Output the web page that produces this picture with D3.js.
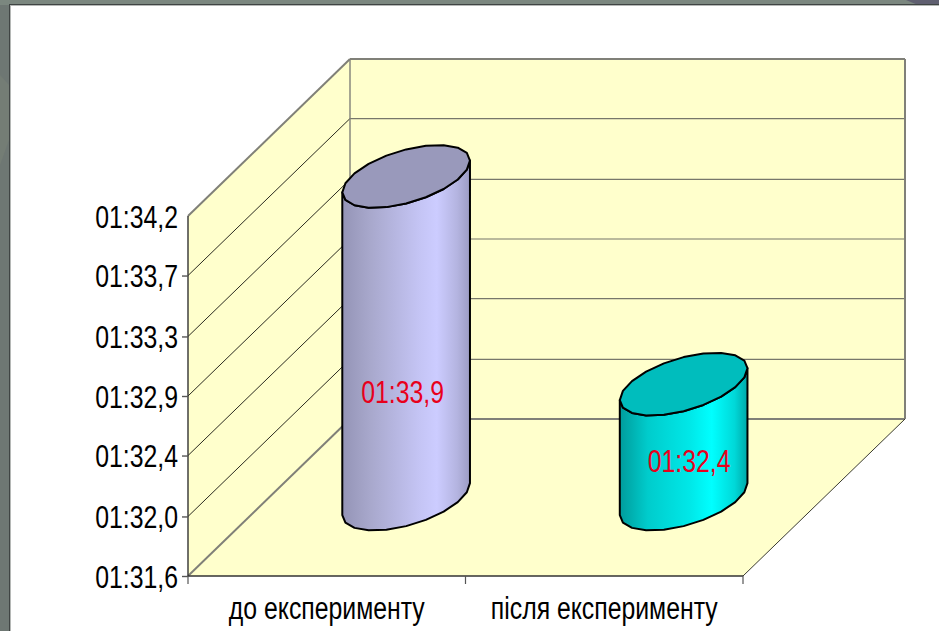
<!DOCTYPE html>
<html lang="uk">
<head>
<meta charset="utf-8">
<title>до і після експерименту</title>
<script src="https://cdn.jsdelivr.net/npm/d3@7/dist/d3.min.js"></script>
<style>
  html, body { margin: 0; padding: 0; background: #fff; overflow: hidden; }
  svg { display: block; }
  text { font-family: "Liberation Sans", Arial, sans-serif; }
</style>
</head>
<body>
<svg id="chart" width="939" height="631"></svg>
<script>
// Times are stored in seconds and shown as mm:ss,d
const categories = ["до експерименту", "після експерименту"];
const seriesValues = [93.9, 92.4];
const axisTicks = [91.57, 92.0, 92.44, 92.87, 93.3, 93.74, 94.17];
const axisDomain = [91.57, 94.17];

// Oblique box: front plane plus a depth vector
const front = { left: 188, right: 743, bottom: 576, top: 216 };
const depth = { x: 162, y: -157 };
const barDepthCentre = 0.49;
const barRadiusX = 55;
const barRadiusDepth = 0.2;
const labelNudge = [-3.5, 5.5];
const fontSize = 31;
const textSqueeze = 0.8;

const svg = d3.select("#chart");

const x = d3.scaleBand().domain(categories).range([front.left, front.right]);
const y = d3.scaleLinear().domain(axisDomain).range([front.bottom, front.top]);

const formatTime = s => {
  const m = Math.floor(s / 60);
  const rest = (s - m * 60).toFixed(1).replace(".", ",");
  return `${String(m).padStart(2, "0")}:${rest.padStart(4, "0")}`;
};

/* Slide frame behind the white panel */
const defs = svg.append("defs");
svg.append("rect").attr("width", 939).attr("height", 631).attr("fill", "#6e7773");
svg.append("rect").attr("width", 939).attr("height", 5).attr("fill", "#7b877f");
svg.append("path").attr("d", "M906,0 L939,0 L939,5 L918,5 Z").attr("fill", "#5f5f70");
svg.append("path").attr("d", "M0,75 L9,85 L9,140 L0,165 Z").attr("fill", "#747d75");
svg.append("rect").attr("x", 9).attr("y", 4).attr("width", 930).attr("height", 627).attr("fill", "#3f4443");
svg.append("rect").attr("x", 10).attr("y", 5).attr("width", 929).attr("height", 626).attr("fill", "#b5b8b6");
svg.append("rect").attr("x", 11).attr("y", 6).attr("width", 928).attr("height", 625).attr("fill", "#fff");

/* Walls and floor */
const wallFill = "#ffffcc";
const poly = pts => d3.line()(pts) + "Z";
const backL = front.left + depth.x;
const backR = front.right + depth.x;
const backBottom = front.bottom + depth.y;
const backTop = front.top + depth.y;

svg.append("path").attr("fill", wallFill).attr("d", poly([
  [front.left, front.bottom], [front.left, front.top], [backL, backTop],
  [backR, backTop], [backR, backBottom], [front.right, front.bottom]
]));

/* Gridlines run across the back wall and along the side wall */
const grid = svg.append("g");
axisTicks.slice(1, -1).forEach(t => {
  grid.append("line")
    .attr("x1", front.left).attr("y1", y(t))
    .attr("x2", backL).attr("y2", y(t) + depth.y)
    .attr("stroke", "#2b2b20").attr("stroke-width", 1);
  grid.append("line")
    .attr("x1", backL).attr("y1", y(t) + depth.y)
    .attr("x2", backR).attr("y2", y(t) + depth.y)
    .attr("stroke", "#77776a").attr("stroke-width", 1.2);
});

const edge = (x1, y1, x2, y2, stroke, w) => svg.append("line")
  .attr("x1", x1).attr("y1", y1).attr("x2", x2).attr("y2", y2)
  .attr("stroke", stroke).attr("stroke-width", w);

edge(front.left, front.top, backL, backTop, "#808078", 2);
edge(backL, backTop, backR, backTop, "#808078", 2);
edge(backR, backTop, backR, backBottom, "#808078", 2);
edge(backL, backTop, backL, backBottom, "#808078", 1.4);
edge(backL, backBottom, backR, backBottom, "#808078", 2);
edge(front.left, front.bottom, backL, backBottom, "#808078", 2);
edge(front.right, front.bottom, backR, backBottom, "#3a3a30", 1);

/* Axes */
const axisLeft = d3.axisLeft(y).tickValues(axisTicks).tickFormat(formatTime).tickSize(6).tickPadding(4);
const gy = svg.append("g").attr("transform", `translate(${front.left},0)`).call(axisLeft);
gy.select(".domain").attr("d", `M0,${front.top}V${front.bottom}`).attr("stroke", "#333").attr("stroke-width", 1.4);
gy.selectAll(".tick line").attr("stroke", "#555").attr("stroke-width", 1.4);
gy.selectAll(".tick").filter(d => d === axisDomain[1]).select("line").remove();
gy.selectAll(".tick text")
  .attr("font-size", fontSize).attr("font-family", null).attr("fill", "#000")
  .attr("text-anchor", "end").attr("x", null).attr("dy", null).attr("y", 11)
  .attr("transform", `translate(-10,0) scale(${textSqueeze},1)`);

const xTicks = [front.left, ...categories.map(c => x(c) + x.bandwidth())];
const gx = svg.append("g").attr("transform", `translate(0,${front.bottom})`)
  .call(d3.axisBottom(x).tickSize(0).tickPadding(0));
gx.attr("font-family", null);
gx.select(".domain").attr("d", `M${front.left},0H${front.right}`).attr("stroke", "#333").attr("stroke-width", 1.4);
gx.selectAll("line.sep").data(xTicks).join("line").attr("class", "sep")
  .attr("x1", d => d).attr("x2", d => d).attr("y1", 0).attr("y2", 8)
  .attr("stroke", "#555").attr("stroke-width", 1.2);
gx.selectAll(".tick text")
  .attr("font-size", fontSize).attr("fill", "#000").attr("dy", null).attr("y", 0)
  .attr("transform", `translate(0,43) scale(${textSqueeze},1)`);

/* Cylinders: the top and bottom rims are circles seen through the oblique box */
const barStyles = [
  { id: "barA", top: "#9999bb", stops: [["0%", "#9494b6"], ["22%", "#a8a8cc"], ["60%", "#c4c4f4"], ["74%", "#ccccff"], ["90%", "#b4b4e0"], ["100%", "#9c9cc4"]] },
  { id: "barB", top: "#00bdbd", stops: [["0%", "#009c9c"], ["22%", "#00cccc"], ["55%", "#00e8e8"], ["72%", "#00ffff"], ["90%", "#00d8d8"], ["100%", "#00a8a8"]] }
];
barStyles.forEach(b => {
  const g = defs.append("linearGradient").attr("id", b.id);
  b.stops.forEach(([o, c]) => g.append("stop").attr("offset", o).attr("stop-color", c));
});

const rimAngles = d3.range(0, 2 * Math.PI, Math.PI / 10);
const rimPoint = (cx, cy, a) => [
  cx + barRadiusX * Math.cos(a) + barRadiusDepth * depth.x * Math.sin(a),
  cy + barRadiusDepth * depth.y * Math.sin(a)
];
const silhouette = Math.atan2(barRadiusDepth * depth.x, barRadiusX);

const bars = svg.append("g").selectAll("g").data(categories).join("g");
bars.each(function (c, i) {
  const g = d3.select(this);
  const cx = x(c) + x.bandwidth() / 2 + barDepthCentre * depth.x;
  const base = front.bottom + barDepthCentre * depth.y;
  const height = y(axisDomain[0]) - y(seriesValues[i]);
  const top = base - height;

  // Body: lower half of the base rim closed up the two silhouette sides
  const lower = d3.range(0, 11).map(k => silhouette + Math.PI + k * Math.PI / 10);
  const basePts = lower.map(a => rimPoint(cx, base, a));
  const topPts = lower.slice().reverse().map(a => rimPoint(cx, top, a));
  g.append("path").attr("d", poly([...basePts, ...topPts]))
    .attr("fill", `url(#${barStyles[i].id})`)
    .attr("stroke", "#000").attr("stroke-width", 2).attr("stroke-linejoin", "round");

  g.append("path").attr("d", poly(rimAngles.map(a => rimPoint(cx, top, a + silhouette))))
    .attr("fill", barStyles[i].top)
    .attr("stroke", "#000").attr("stroke-width", 2).attr("stroke-linejoin", "round");

  g.append("text")
    .attr("text-anchor", "middle").attr("y", 11)
    .attr("transform", `translate(${cx + labelNudge[i]},${base - height / 3}) scale(${textSqueeze},1)`)
    .attr("font-size", fontSize).attr("fill", "#e8001c")
    .text(formatTime(seriesValues[i]));
});
</script>
</body>
</html>
